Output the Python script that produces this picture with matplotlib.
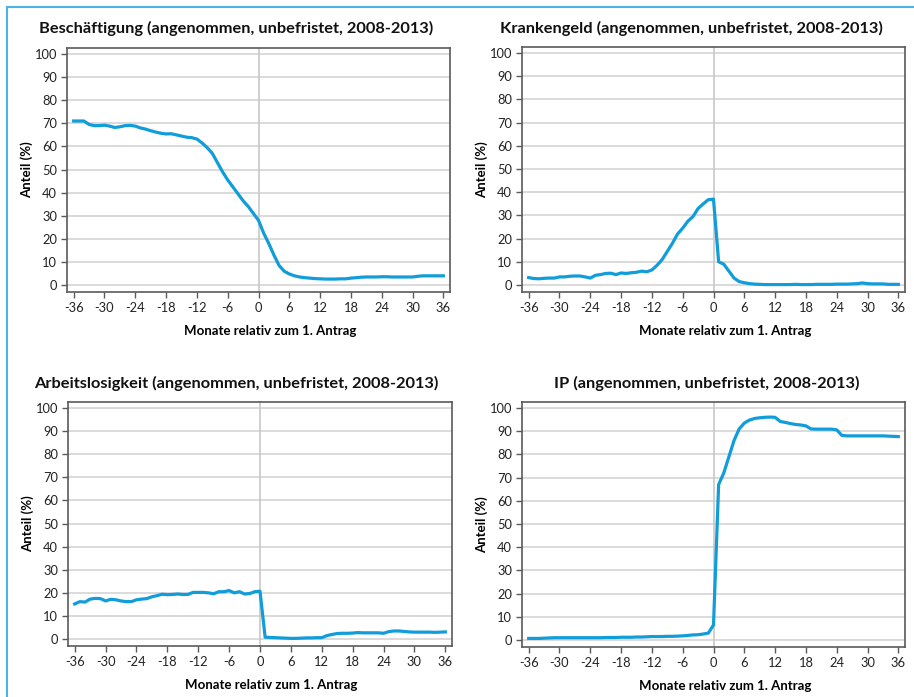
import matplotlib
matplotlib.use("Agg")
import matplotlib.pyplot as plt
import numpy as np
from matplotlib.lines import Line2D

plt.rcParams['font.family'] = ['Lato', 'DejaVu Sans']
plt.rcParams['axes.unicode_minus'] = False

months = list(range(-36, 37))

beschaeftigung = [
    71, 71, 71, 69.5, 69, 69, 69.2, 68.8, 68.2, 68.5, 69, 69.1,
    68.8, 68, 67.5, 66.8, 66.2, 65.7, 65.4, 65.5, 65, 64.5, 64, 63.8,
    63.2, 61.5, 59.5, 57, 53, 49, 45.5, 42.5, 39.5, 36.5, 34, 31,
    28, 22.5, 18, 13, 8.5, 6, 4.8, 4, 3.5, 3.2, 3, 2.8,
    2.7, 2.6, 2.6, 2.6, 2.7, 2.7, 3, 3.2, 3.4, 3.5, 3.5, 3.5,
    3.6, 3.6, 3.5, 3.5, 3.5, 3.5, 3.5, 3.8, 4, 4, 4, 4, 4,
]

krankengeld = [
    3.2, 2.8, 2.7, 2.9, 3, 3, 3.5, 3.5, 3.8, 3.9, 3.9, 3.5,
    3, 4.2, 4.5, 5, 5.1, 4.5, 5.2, 5, 5.3, 5.5, 6, 5.7,
    6.5, 8.5, 11, 14.5, 18, 22, 24.5, 27.5, 29.5, 33, 35, 36.8,
    37, 10, 9, 6, 3, 1.5, 1, 0.6, 0.4, 0.3, 0.2, 0.2,
    0.2, 0.2, 0.2, 0.2, 0.3, 0.2, 0.2, 0.2, 0.3, 0.3, 0.3, 0.3,
    0.4, 0.4, 0.4, 0.5, 0.6, 0.9, 0.6, 0.5, 0.5, 0.5, 0.3, 0.3, 0.3,
]

arbeitslosigkeit = [
    15.2, 16.2, 16, 17.3, 17.6, 17.5, 16.5, 17.2, 17, 16.5, 16.2, 16.2,
    17, 17.3, 17.5, 18.3, 18.8, 19.4, 19.2, 19.3, 19.5, 19.3, 19.3, 20.2,
    20.2, 20.2, 20, 19.6, 20.5, 20.5, 21, 20, 20.5, 19.5, 19.7, 20.5,
    20.7, 0.8, 0.7, 0.6, 0.5, 0.4, 0.3, 0.3, 0.4, 0.5, 0.5, 0.6,
    0.6, 1.5, 2, 2.4, 2.5, 2.5, 2.6, 2.8, 2.7, 2.7, 2.7, 2.7,
    2.5, 3.2, 3.5, 3.5, 3.3, 3.1, 3, 3, 3, 3, 2.9, 3, 3.1,
]

ip = [
    0.7, 0.7, 0.7, 0.8, 0.9, 1, 1, 1, 1, 1, 1, 1,
    1, 1, 1, 1.1, 1.1, 1.1, 1.2, 1.2, 1.2, 1.3, 1.3, 1.4,
    1.5, 1.5, 1.5, 1.6, 1.6, 1.7, 1.8, 2, 2.2, 2.3, 2.6, 3,
    6.5, 67, 72, 79, 86, 91, 93.5, 94.8, 95.5, 95.8, 96, 96.1,
    96, 94.2, 93.8, 93.3, 92.9, 92.7, 92.3, 91, 90.9, 90.9, 90.9, 90.9,
    90.6, 88.2, 88, 88, 88, 88, 88, 88, 88, 88, 87.9, 87.8, 87.7,
]

titles = [
    "Beschäftigung (angenommen, unbefristet, 2008-2013)",
    "Krankengeld (angenommen, unbefristet, 2008-2013)",
    "Arbeitslosigkeit (angenommen, unbefristet, 2008-2013)",
    "IP (angenommen, unbefristet, 2008-2013)",
]
series = [beschaeftigung, krankengeld, arbeitslosigkeit, ip]

W, H = 914, 697
fig = plt.figure(figsize=(W / 100, H / 100), dpi=100)

# axes boxes in pixels: left, top, right, bottom
boxes = [(67, 48, 450, 292), (522, 47, 905, 292),
         (68, 402, 452, 646), (522, 402, 905, 647)]
title_pos = [(236, 28), (691, 28), (236, 383), (707, 383)]

line_color = '#109dd9'

for i in range(4):
    l, t, r, b = boxes[i]
    ax = fig.add_axes([l / W, 1 - b / H, (r - l) / W, (b - t) / H])
    ax.plot(months, series[i], color=line_color, lw=2.3, zorder=3)
    ax.axvline(0, color='#c8c8c8', lw=1.2, zorder=1)
    ax.set_xlim(-37.3, 37.3)
    ax.set_ylim(-3, 102.6)
    ax.set_xticks(np.arange(-36, 37, 6))
    ax.set_yticks(np.arange(0, 101, 10))
    ax.yaxis.grid(True, color='#d4d4d4', lw=1.2)
    ax.set_axisbelow(True)
    for s in ax.spines.values():
        s.set_color('#5a5a5a')
        s.set_linewidth(1.2)
    ax.tick_params(labelsize=9.3, colors='#222222', length=4, width=1, color='#5a5a5a', pad=3)
    ax.set_xlabel("Monate relativ zum 1. Antrag", fontsize=9.5, fontweight='bold')
    ax.xaxis.set_label_coords(0.53, -0.135)
    ax.set_ylabel("Anteil (%)", fontsize=9.5, fontweight='bold')
    ax.yaxis.set_label_coords(-0.088, 0.5)
    tx, ty = title_pos[i]
    fig.text(tx / W, 1 - ty / H, titles[i], ha='center', va='center',
             fontsize=11.8, fontweight='bold', color='#111111')

# light blue frame at top and left
fig.add_artist(Line2D([7 / W, 1], [1 - 7 / H, 1 - 7 / H], color='#4cb3e6', lw=1.5))
fig.add_artist(Line2D([7 / W, 7 / W], [0, 1 - 7 / H], color='#4cb3e6', lw=1.5))

fig.savefig("out.png", dpi=100)
